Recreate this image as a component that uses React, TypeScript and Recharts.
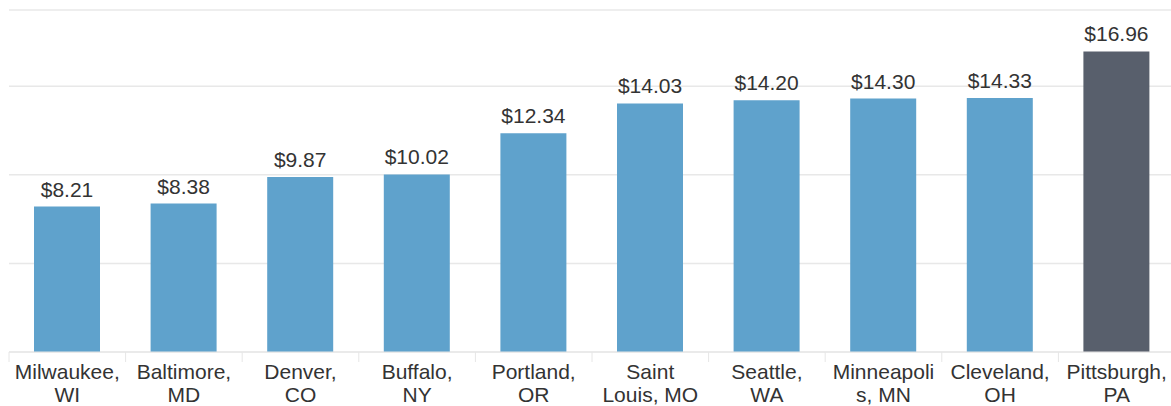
import { BarChart, Bar, XAxis, YAxis, CartesianGrid, Cell, LabelList } from "recharts";

const cities = [
  "Milwaukee,|WI",
  "Baltimore,|MD",
  "Denver,|CO",
  "Buffalo,|NY",
  "Portland,|OR",
  "Saint|Louis, MO",
  "Seattle,|WA",
  "Minneapoli|s, MN",
  "Cleveland,|OH",
  "Pittsburgh,|PA",
];
const prices = [8.21, 8.38, 9.87, 10.02, 12.34, 14.03, 14.2, 14.3, 14.33, 16.96];
const yTicks = [0, 5, 10, 15];
const highlight = "Pittsburgh,|PA";

const chartData = cities.map((city, i) => ({ city, price: prices[i] }));

const CHART_W = 1175;
const LEFT = 9;
const band = (CHART_W - LEFT) / cities.length;

function CityTick(props: any) {
  const { x, y, payload } = props;
  const [l1, l2] = String(payload.value).split("|");
  const sep = x - band / 2;
  return (
    <g>
      <line x1={sep} y1={y - 8} x2={sep} y2={y + 2} stroke="#e6e6e6" />
      <text x={x} y={y + 19} textAnchor="middle" fill="#333" fontSize={21}>
        <tspan x={x}>{l1}</tspan>
        <tspan x={x} dy={23}>{l2}</tspan>
      </text>
    </g>
  );
}

function PriceLabel(props: any) {
  const { x, y, width, value } = props;
  return (
    <text x={x + width / 2} y={y - 10} textAnchor="middle" fill="#333" fontSize={21}>
      {`$${Number(value).toFixed(2)}`}
    </text>
  );
}

const NoTick = () => <g />;

export default function App() {
  return (
    <div
      style={{
        position: "absolute",
        left: 0,
        top: 0,
        width: 1171,
        height: 406,
        overflow: "hidden",
        background: "#fff",
        fontFamily: "'Liberation Sans', Arial, sans-serif",
      }}
    >
      <BarChart
        width={CHART_W}
        height={406}
        data={chartData}
        margin={{ top: 10, right: 0, left: LEFT, bottom: 0 }}
      >
        <CartesianGrid vertical={false} stroke="#e8e8e8" strokeWidth={1.5} />
        <XAxis
          dataKey="city"
          height={54}
          interval={0}
          axisLine={{ stroke: "#e6e6e6" }}
          tickLine={false}
          tick={<CityTick />}
        />
        <YAxis
          width={0}
          domain={[0, 19.3]}
          ticks={yTicks}
          tick={NoTick}
          tickLine={false}
          axisLine={{ stroke: "#e6e6e6" }}
        />
        <Bar dataKey="price" barSize={66} isAnimationActive={false}>
          {chartData.map((d) => (
            <Cell key={d.city} fill={d.city === highlight ? "#585f6c" : "#5fa2cc"} />
          ))}
          <LabelList dataKey="price" content={<PriceLabel />} />
        </Bar>
      </BarChart>
    </div>
  );
}
